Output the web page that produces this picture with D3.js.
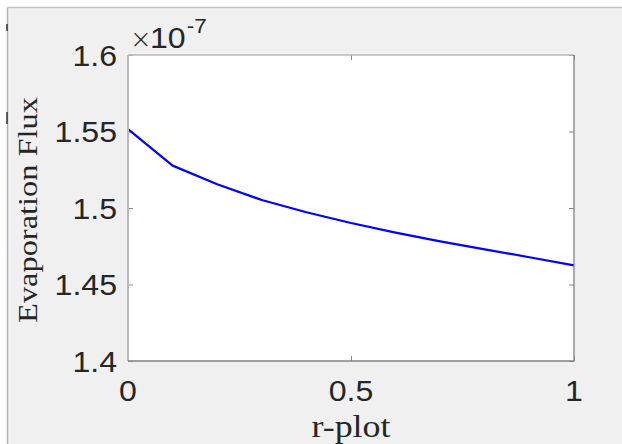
<!DOCTYPE html>
<html>
<head>
<meta charset="utf-8">
<script src="https://cdn.jsdelivr.net/npm/d3@7"></script>
<style>
  html, body { margin: 0; padding: 0; background: #ffffff; }
  svg { display: block; }
</style>
</head>
<body>
<svg id="chart" width="622" height="444"></svg>
<script>
// ---- data ----
const rPlot = [0, 0.1, 0.2, 0.3, 0.4, 0.5, 0.6, 0.7, 0.8, 0.9, 1.0];
const evapFlux = [1.5515, 1.5277, 1.5155, 1.5052, 1.4972, 1.4902, 1.4839, 1.4782, 1.4730, 1.4678, 1.4625]; // ×1e-7
const xTicks = [0, 0.5, 1];
const xTickLabels = ["0", "0.5", "1"];
const yTicks = [1.4, 1.45, 1.5, 1.55, 1.6];
const yTickLabels = ["1.4", "1.45", "1.5", "1.55", "1.6"];
const xLabel = "r-plot";
const yLabel = "Evaporation Flux";
const exponentTimes = "\u00d7";
const exponentBase = "10";
const exponentPower = "-7";

// ---- layout ----
const W = 622, H = 444;
const plot = { left: 128, top: 55, right: 574, bottom: 361 };
const svg = d3.select("#chart");

// figure background
svg.append("rect").attr("x", 8).attr("y", 8).attr("width", W - 8).attr("height", H - 8).attr("fill", "#f0f0f0");
svg.append("line").attr("x1", 7.5).attr("x2", W).attr("y1", 7.5).attr("y2", 7.5).attr("stroke", "#c4c4c4").attr("stroke-width", 1.5);
svg.append("line").attr("x1", 7.5).attr("x2", 7.5).attr("y1", 7.5).attr("y2", H).attr("stroke", "#b4b4b4").attr("stroke-width", 1.5);
// small dark marks on the left edge
[[24, 31], [112, 124]].forEach(([a, b]) => {
  svg.append("line").attr("x1", 7).attr("x2", 7).attr("y1", a).attr("y2", b).attr("stroke", "#333").attr("stroke-width", 1.5);
});

const x = d3.scaleLinear().domain([0, 1]).range([plot.left, plot.right]);
const y = d3.scaleLinear().domain([1.4, 1.6]).range([plot.bottom, plot.top]);

// plot area
svg.append("rect")
  .attr("x", plot.left).attr("y", plot.top)
  .attr("width", plot.right - plot.left).attr("height", plot.bottom - plot.top)
  .attr("fill", "#ffffff");

const tickLen = 5;
const tickColor = "#8a8a8a";

// inward ticks via d3 axes (no labels)
const gLeft = svg.append("g").attr("transform", `translate(${plot.left},0)`)
  .call(d3.axisRight(y).tickValues(yTicks).tickSize(tickLen).tickFormat(""));
const gRight = svg.append("g").attr("transform", `translate(${plot.right},0)`)
  .call(d3.axisLeft(y).tickValues(yTicks).tickSize(tickLen).tickFormat(""));
const gBottom = svg.append("g").attr("transform", `translate(0,${plot.bottom})`)
  .call(d3.axisTop(x).tickValues(xTicks).tickSize(tickLen).tickFormat(""));
const gTop = svg.append("g").attr("transform", `translate(0,${plot.top})`)
  .call(d3.axisBottom(x).tickValues(xTicks).tickSize(tickLen).tickFormat(""));
[gLeft, gRight, gBottom, gTop].forEach(g => {
  g.select(".domain").remove();
  g.selectAll(".tick line").attr("stroke", tickColor).attr("stroke-width", 1);
});

// data line
const line = d3.line().x((d, i) => x(rPlot[i])).y(d => y(d));
svg.append("path")
  .datum(evapFlux)
  .attr("d", line)
  .attr("fill", "none")
  .attr("stroke", "#0000ff")
  .attr("stroke-width", 2.2)
  .attr("stroke-linejoin", "round");

// box
svg.append("line").attr("x1", plot.left).attr("x2", plot.right).attr("y1", plot.top).attr("y2", plot.top)
  .attr("stroke", "#b8b8b8").attr("stroke-width", 1.5);
svg.append("line").attr("x1", plot.left).attr("x2", plot.left).attr("y1", plot.top).attr("y2", plot.bottom)
  .attr("stroke", "#b8b8b8").attr("stroke-width", 2);
svg.append("line").attr("x1", plot.right).attr("x2", plot.right).attr("y1", plot.top).attr("y2", plot.bottom + 0.5)
  .attr("stroke", "#828282").attr("stroke-width", 1.3);
svg.append("line").attr("x1", plot.left).attr("x2", plot.right).attr("y1", plot.bottom).attr("y2", plot.bottom)
  .attr("stroke", "#828282").attr("stroke-width", 1.3);

// tick labels
const sans = "'Liberation Sans', Arial, Helvetica, sans-serif";
const serif = "'Liberation Serif', 'Times New Roman', serif";
const tickFont = 30, sx = 1.07;

yTicks.forEach((v, i) => {
  svg.append("text")
    .attr("transform", `translate(${plot.left - 11},${y(v) + 10.5}) scale(${sx},1)`)
    .attr("text-anchor", "end")
    .attr("font-family", sans).attr("font-size", tickFont)
    .attr("fill", "#262626")
    .text(yTickLabels[i]);
});
xTicks.forEach((v, i) => {
  svg.append("text")
    .attr("transform", `translate(${x(v)},${plot.bottom + 39.5}) scale(${sx},1)`)
    .attr("text-anchor", "middle")
    .attr("font-family", sans).attr("font-size", tickFont)
    .attr("fill", "#262626")
    .text(xTickLabels[i]);
});

// exponent label
svg.append("text")
  .attr("x", plot.left + 2).attr("y", 48)
  .attr("font-family", "'DejaVu Sans', sans-serif").attr("font-weight", 300).attr("font-size", 26)
  .attr("fill", "#262626")
  .text(exponentTimes);
const ex = svg.append("text")
  .attr("transform", `translate(${plot.left + 22},48) scale(${sx},1)`)
  .attr("font-family", sans).attr("font-size", tickFont)
  .attr("fill", "#262626");
ex.append("tspan").text(exponentBase);
ex.append("tspan").attr("dy", -15).attr("dx", 1).attr("font-size", 21).text(exponentPower);

// axis labels
svg.append("text")
  .attr("transform", `translate(${(plot.left + plot.right) / 2},437) scale(1.16,1)`)
  .attr("text-anchor", "middle")
  .attr("font-family", serif).attr("font-size", 31)
  .attr("fill", "#262626")
  .text(xLabel);

svg.append("text")
  .attr("transform", `translate(37,${(plot.top + plot.bottom) / 2 + 2}) rotate(-90) scale(1.2,1)`)
  .attr("text-anchor", "middle")
  .attr("font-family", serif).attr("font-size", 27)
  .attr("fill", "#262626")
  .text(yLabel);
</script>
</body>
</html>
